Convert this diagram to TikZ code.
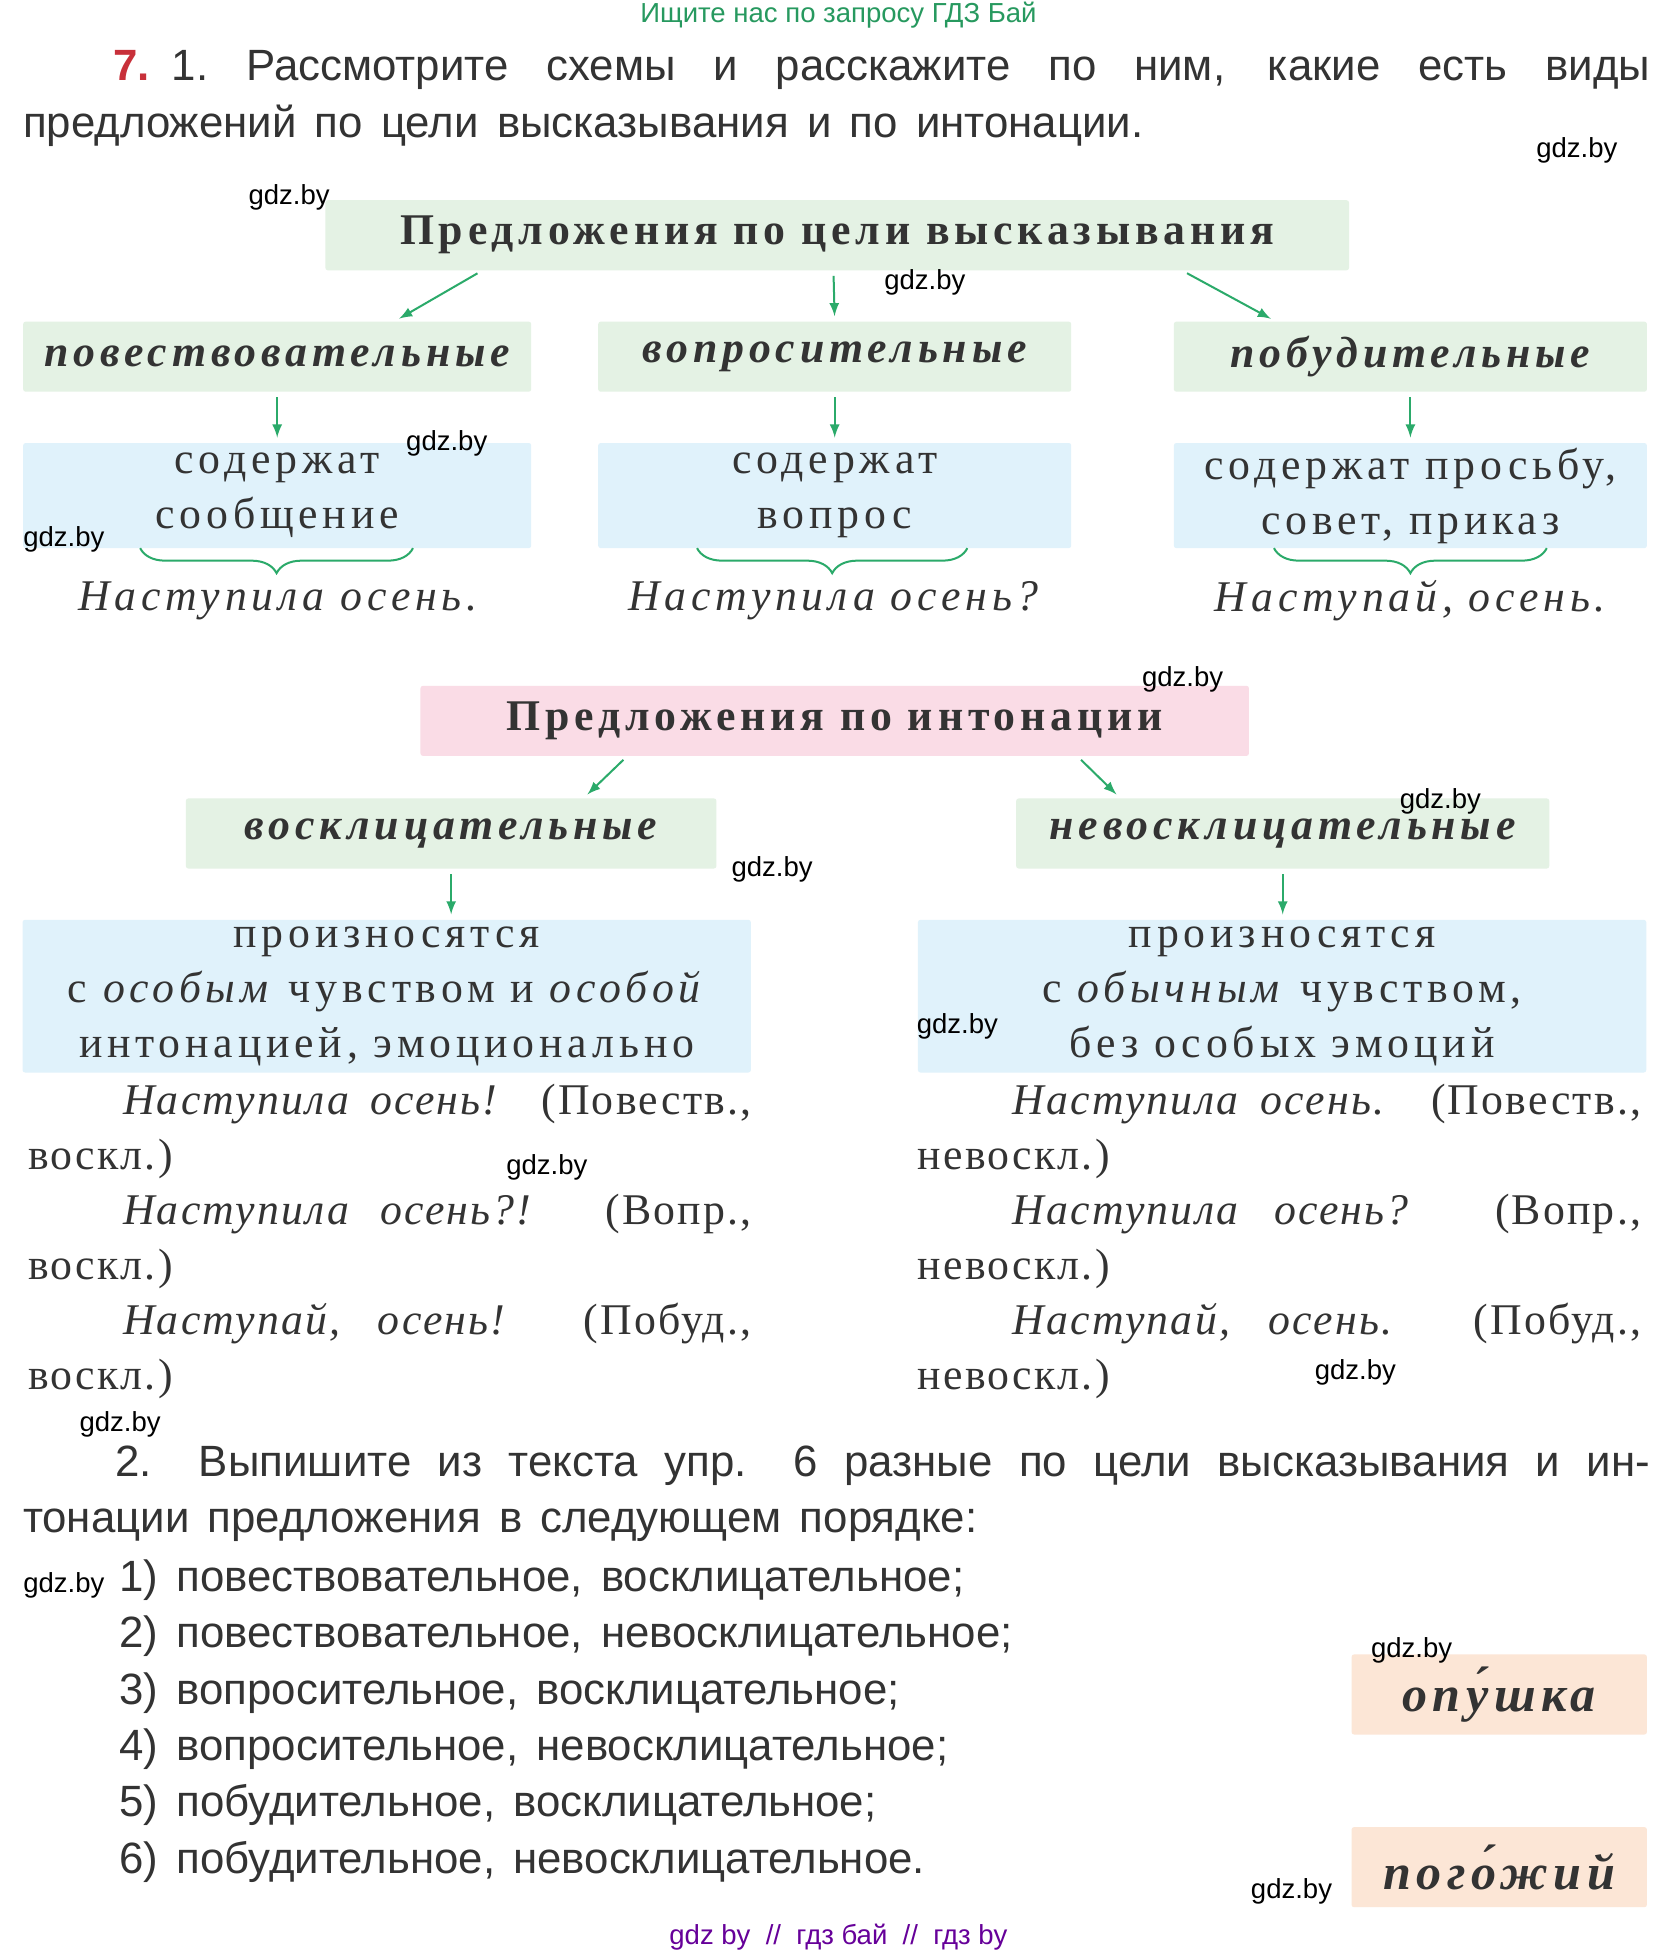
\documentclass[tikz,border=0pt]{standalone}
\usepackage{fontspec}
\setmainfont{Liberation Serif}
\setsansfont{Liberation Sans}[WordSpace=1.5]
\newfontfamily\plain{Liberation Sans}
\newfontfamily\wide{Liberation Serif}[LetterSpace=11]
\newfontfamily\narrowwide{Liberation Serif}[LetterSpace=5]
\usetikzlibrary{positioning,decorations.pathreplacing}
\definecolor{boxgreen}{HTML}{E4F2E4}
\definecolor{boxblue}{HTML}{E0F2FB}
\definecolor{boxpink}{HTML}{FADCE6}
\definecolor{boxpeach}{HTML}{FCE6D6}
\definecolor{arrgreen}{HTML}{2BAA6A}
\definecolor{numred}{HTML}{C8303A}
\definecolor{txt}{HTML}{333333}
\begin{document}
\begin{tikzpicture}
        [x=0.5pt, y=-0.5pt,
        head/.style={rounded corners=1pt, inner sep=0pt, font=\wide\fontsize{17.5}{20}\selectfont\bfseries, text=txt},
        kind/.style={head, font=\wide\fontsize{17.5}{20}\selectfont\bfseries\itshape},
        info/.style={rounded corners=1pt, fill=boxblue, inner sep=0pt, align=center, font=\wide\fontsize{17.5}{22}\selectfont, text=txt},
        sample/.style={font=\wide\fontsize{17.5}{22}\selectfont\itshape, text=txt},
        para/.style={anchor=north west, inner sep=0pt, align=justify, font=\narrowwide\fontsize{17.5}{22}\selectfont, text=txt},
        body/.style={inner sep=0pt, font=\sffamily\fontsize{17.5}{22.5}\selectfont, text=txt},
        arr/.style={-latex, thick, arrgreen, shorten <=2pt, shorten >=2pt},
        brace/.style={decorate, decoration={brace, amplitude=10pt}, thick, arrgreen},
        wmark/.style={font=\plain\fontsize{11}{12}\selectfont, text=black}]

        \useasboundingbox[fill=white] (0,0) rectangle (1330,1559);

        % heading and task text
        \node[font=\plain\fontsize{11}{12}\selectfont, text=arrgreen!90!black] (site) at (670,12) {Ищите нас по запросу ГДЗ Бай};
        \node[body, anchor=north west, text width=650pt, align=justify] (task) at (18,40)
            {\hspace*{36pt}\mbox{{\color{numred}\bfseries 7.} 1.} Рассмотрите схемы и расскажите по ним, какие есть виды предложений по цели высказывания и по интонации.};

        % first scheme
        \node[head, fill=boxgreen, minimum width=409pt, minimum height=28pt] (goal) at (669,188) {Предложения по цели высказывания};
        \node[kind, fill=boxgreen, minimum width=203pt, minimum height=28pt] (narr) at (221.5,285) {повествовательные};
        \node[kind, fill=boxgreen, minimum width=189pt, minimum height=28pt] (ques) at (667,285) {вопросительные};
        \node[kind, fill=boxgreen, minimum width=189pt, minimum height=28pt] (incen) at (1127,285) {побудительные};

        \node[info, minimum width=203pt, minimum height=42pt] (narrinfo) at (221.5,396) {содержат\\сообщение};
        \node[info, minimum width=189pt, minimum height=42pt] (quesinfo) at (667,396) {содержат\\вопрос};
        \node[info, minimum width=189pt, minimum height=42pt] (inceninfo) at (1127,396) {содержат просьбу,\\совет, приказ};

        \node[sample] (narrex) at (222,480) {Наступила осень.};
        \node[sample] (quesex) at (666,480) {Наступила осень?};
        \node[sample] (incenex) at (1127,480) {Наступай, осень.};

        \draw[arr] ([xshift=-284pt/2]goal.south) -- ([xshift=47pt]narr.north);
        \draw[arr] ([xshift=-3pt/2]goal.south) -- (ques.north);
        \draw[arr] ([xshift=276pt/2]goal.south) -- ([xshift=-54pt]incen.north);
        \draw[arr] (narr) -- (narrinfo);
        \draw[arr] (ques) -- (quesinfo);
        \draw[arr] (incen) -- (inceninfo);

        \draw[brace] (330,438) -- (112,438);
        \draw[brace] (773,438) -- (557,438);
        \draw[brace] (1236,438) -- (1018,438);

        % second scheme
        \node[head, fill=boxpink, minimum width=331pt, minimum height=28pt] (tone) at (667,576) {Предложения по интонации};
        \node[kind, fill=boxgreen, minimum width=212pt, minimum height=28pt] (excl) at (360.5,666) {восклицательные};
        \node[kind, fill=boxgreen, minimum width=213pt, minimum height=28pt] (noexcl) at (1025,666) {невосклицательные};

        \node[info, minimum width=291pt, minimum height=61pt] (exclinfo) at (309,796)
            {произносятся\\с \textit{особым} чувством и \textit{особой}\\интонацией, эмоционально};
        \node[info, minimum width=291pt, minimum height=61pt] (noexclinfo) at (1024.5,796)
            {произносятся\\с \textit{обычным} чувством,\\без особых эмоций};

        \draw[arr] ([xshift=-83pt]tone.south) -- ([xshift=53pt]excl.north);
        \draw[arr] ([xshift=97pt]tone.south) -- ([xshift=-65pt]noexcl.north);
        \draw[arr] (excl.south) -- (excl.south |- exclinfo.north);
        \draw[arr] (noexcl.south) -- (noexcl.south |- noexclinfo.north);

        \node[para, text width=289pt] (exclex) at (22,866)
            {\hspace*{38pt}\textit{Наступила осень!} (Повеств.,\linebreak воскл.)\par
             \hspace*{38pt}\textit{Наступила осень?!} (Вопр.,\linebreak воскл.)\par
             \hspace*{38pt}\textit{Наступай, осень!} (Побуд.,\linebreak воскл.)};
        \node[para, text width=289pt] (noexclex) at (733,866)
            {\hspace*{38pt}\textit{Наступила осень.} (Повеств.,\linebreak невоскл.)\par
             \hspace*{38pt}\textit{Наступила осень?} (Вопр.,\linebreak невоскл.)\par
             \hspace*{38pt}\textit{Наступай, осень.} (Побуд.,\linebreak невоскл.)};

        % second task
        \node[body, anchor=north west, text width=650pt, align=justify] (task2) at (18,1155)
            {\hspace*{37pt}2. Выпишите из текста упр. 6 разные по цели высказывания и ин-\linebreak тонации предложения в следующем порядке:};
        \node[body, anchor=north west, align=left] (list) at (95,1246)
            {1) повествовательное, восклицательное;\\
             2) повествовательное, невосклицательное;\\
             3) вопросительное, восклицательное;\\
             4) вопросительное, невосклицательное;\\
             5) побудительное, восклицательное;\\
             6) побудительное, невосклицательное.};

        \node[head, fill=boxpeach, minimum width=118pt, minimum height=32pt, font=\wide\fontsize{20}{22}\selectfont\bfseries\itshape] (word1) at (1198,1354) {опу́шка};
        \node[head, fill=boxpeach, minimum width=118pt, minimum height=32pt, font=\wide\fontsize{20}{22}\selectfont\bfseries\itshape] (word2) at (1198,1492) {пого́жий};

        % watermarks
        \node[font=\plain\fontsize{11}{12}\selectfont, text=violet!80!blue] (foot) at (670,1548) {gdz by \ // \ гдз бай \ // \ гдз by};
        \foreach \px/\py [count=\i] in {1260/120, 231/158, 739/226, 357/354, 51/431, 945/543, 1151/640, 617/695, 765/820, 437/933, 1083/1097, 96/1138, 51/1267, 1128/1319, 1032/1511}
            \node[wmark] (gdz\i) at (\px,\py) {gdz.by};
    \end{tikzpicture}
\end{document}
